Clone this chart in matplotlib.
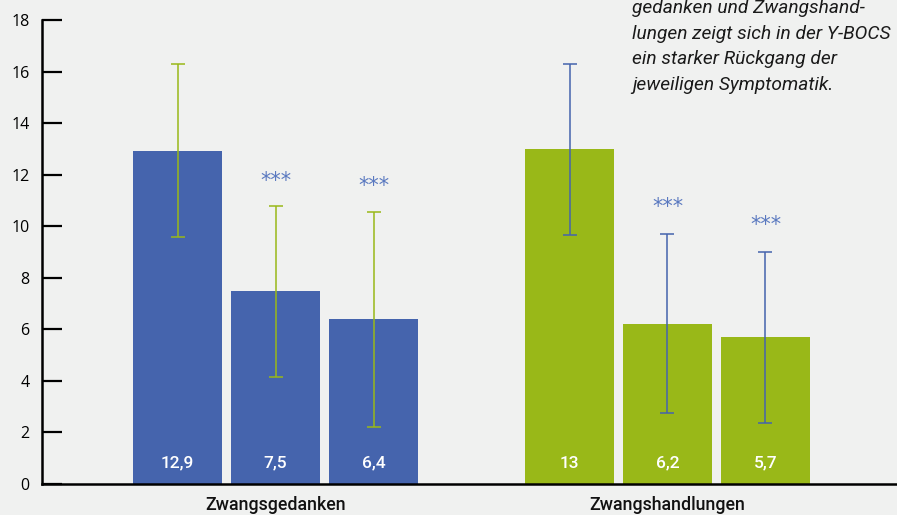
import matplotlib.pyplot as plt

# data
groups = ['Zwangsgedanken', 'Zwangshandlungen']
positions = [0, 1, 2, 4, 5, 6]
values = [12.9, 7.5, 6.4, 13.0, 6.2, 5.7]
value_labels = ['12,9', '7,5', '6,4', '13', '6,2', '5,7']
err_low = [9.6, 4.15, 2.2, 9.65, 2.75, 2.35]
err_high = [16.3, 10.8, 10.55, 16.3, 9.7, 9.0]
stars = ['', '***', '***', '', '***', '***']
star_y = [0, 11.75, 11.55, 0, 10.75, 10.05]

blue = '#4564ad'
green = '#99b818'
star_col = '#5a79c0'
bg = '#f0f1f0'

fig = plt.figure(figsize=(8.97, 5.15), dpi=100, facecolor=bg)
ax = fig.add_axes([42/897, 31/515, 855/897, 464/515], facecolor=bg)

bar_cols = [blue]*3 + [green]*3
err_cols = [green]*3 + [blue]*3
ax.bar(positions, values, width=0.91, color=bar_cols, zorder=2)

for i, x in enumerate(positions):
    v = values[i]
    ax.errorbar(x, v, yerr=[[v - err_low[i]], [err_high[i] - v]], color=err_cols[i],
                capsize=5, elinewidth=1.1, capthick=1.1, zorder=3)
    ax.text(x, 0.8, value_labels[i], color='white', ha='center', va='center',
            fontsize=12.5, family='Roboto', weight='medium', zorder=4)
    if stars[i]:
        ax.text(x, star_y[i], stars[i], color=star_col, ha='center', va='center',
                fontsize=15, family='DejaVu Sans', zorder=4)

ax.set_xlim(-1.383, 7.342)
ax.set_ylim(0, 18)
ax.set_yticks(range(0, 19, 2))
ax.set_xticks([])
for s in ['top', 'right']:
    ax.spines[s].set_visible(False)
ax.spines['left'].set_linewidth(1.8)
ax.spines['bottom'].set_linewidth(1.8)
ax.tick_params(axis='y', direction='in', length=14.5, width=1.6, pad=9,
               labelsize=11.5)
for lab in ax.get_yticklabels():
    lab.set_family('Open Sans')

for g, cx in zip(groups, [1, 5]):
    ax.text(cx, -0.8, g, ha='center', va='center', fontsize=12.8,
            family='Roboto', weight='medium', color='#111111')

# note text, first line is cut off at the top as in the original
note = ['gedanken und Zwangshand-', 'lungen zeigt sich in der Y-BOCS',
        'ein starker Rückgang der', 'jeweiligen Symptomatik.']
for k, line in enumerate(note):
    fig.text(632/897, 1 - (8 + 25.5*k)/515, line, ha='left', va='center',
             fontsize=13.8, style='italic', family='Roboto', color='#1a1a1a')

fig.savefig('out.png', dpi=100, facecolor=bg)
